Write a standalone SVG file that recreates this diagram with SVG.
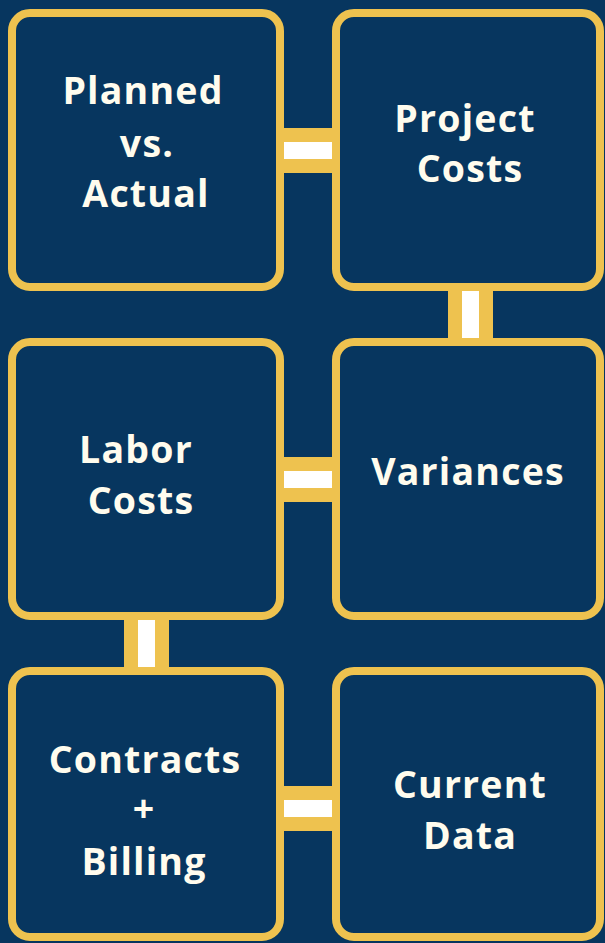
<svg xmlns="http://www.w3.org/2000/svg" width="605" height="943" viewBox="0 0 605 943">
  <style>
    .box { fill: #07365f; stroke: #eec24f; stroke-width: 8; }
    .link { fill: #eec24f; }
    .gap { fill: #ffffff; }
    .label { fill: #fffcee; font-family: "Open Sans", "Liberation Sans", sans-serif; font-weight: 700; font-size: 37.5px; text-anchor: middle; letter-spacing: 1.2px; }
  </style>
  <rect x="0" y="0" width="605" height="943" fill="#07365f"/>

  <!-- connectors between neighbouring boxes -->
  <g id="connectors">
    <rect class="link" x="280" y="128" width="56" height="45"/>
    <rect class="gap" x="284" y="142" width="48" height="17"/>
    <rect class="link" x="448" y="287" width="45" height="55"/>
    <rect class="gap" x="462" y="291" width="17" height="47"/>
    <rect class="link" x="280" y="457" width="56" height="45"/>
    <rect class="gap" x="284" y="471" width="48" height="17"/>
    <rect class="link" x="124" y="616" width="45" height="55"/>
    <rect class="gap" x="138" y="620" width="17" height="47"/>
    <rect class="link" x="280" y="786" width="56" height="45"/>
    <rect class="gap" x="284" y="800" width="48" height="17"/>
  </g>

  <g id="planned-vs-actual">
    <rect class="box" x="12" y="13" width="268" height="274" rx="18"/>
    <text class="label" x="143" y="104">Planned</text>
    <text class="label" x="147" y="157">vs.</text>
    <text class="label" x="146" y="207">Actual</text>
  </g>

  <g id="project-costs">
    <rect class="box" x="336" y="13" width="264" height="274" rx="18"/>
    <text class="label" x="465" y="132">Project</text>
    <text class="label" x="470" y="182">Costs</text>
  </g>

  <g id="labor-costs">
    <rect class="box" x="12" y="342" width="268" height="274" rx="18"/>
    <text class="label" x="136" y="463">Labor</text>
    <text class="label" x="141" y="514">Costs</text>
  </g>

  <g id="variances">
    <rect class="box" x="336" y="342" width="264" height="274" rx="18"/>
    <text class="label" x="468" y="485">Variances</text>
  </g>

  <g id="contracts-billing">
    <rect class="box" x="12" y="671" width="268" height="266" rx="18"/>
    <text class="label" x="145" y="773">Contracts</text>
    <text class="label" x="144" y="822">+</text>
    <text class="label" x="144" y="875">Billing</text>
  </g>

  <g id="current-data">
    <rect class="box" x="336" y="671" width="264" height="266" rx="18"/>
    <text class="label" x="470" y="798">Current</text>
    <text class="label" x="470" y="849">Data</text>
  </g>
</svg>
